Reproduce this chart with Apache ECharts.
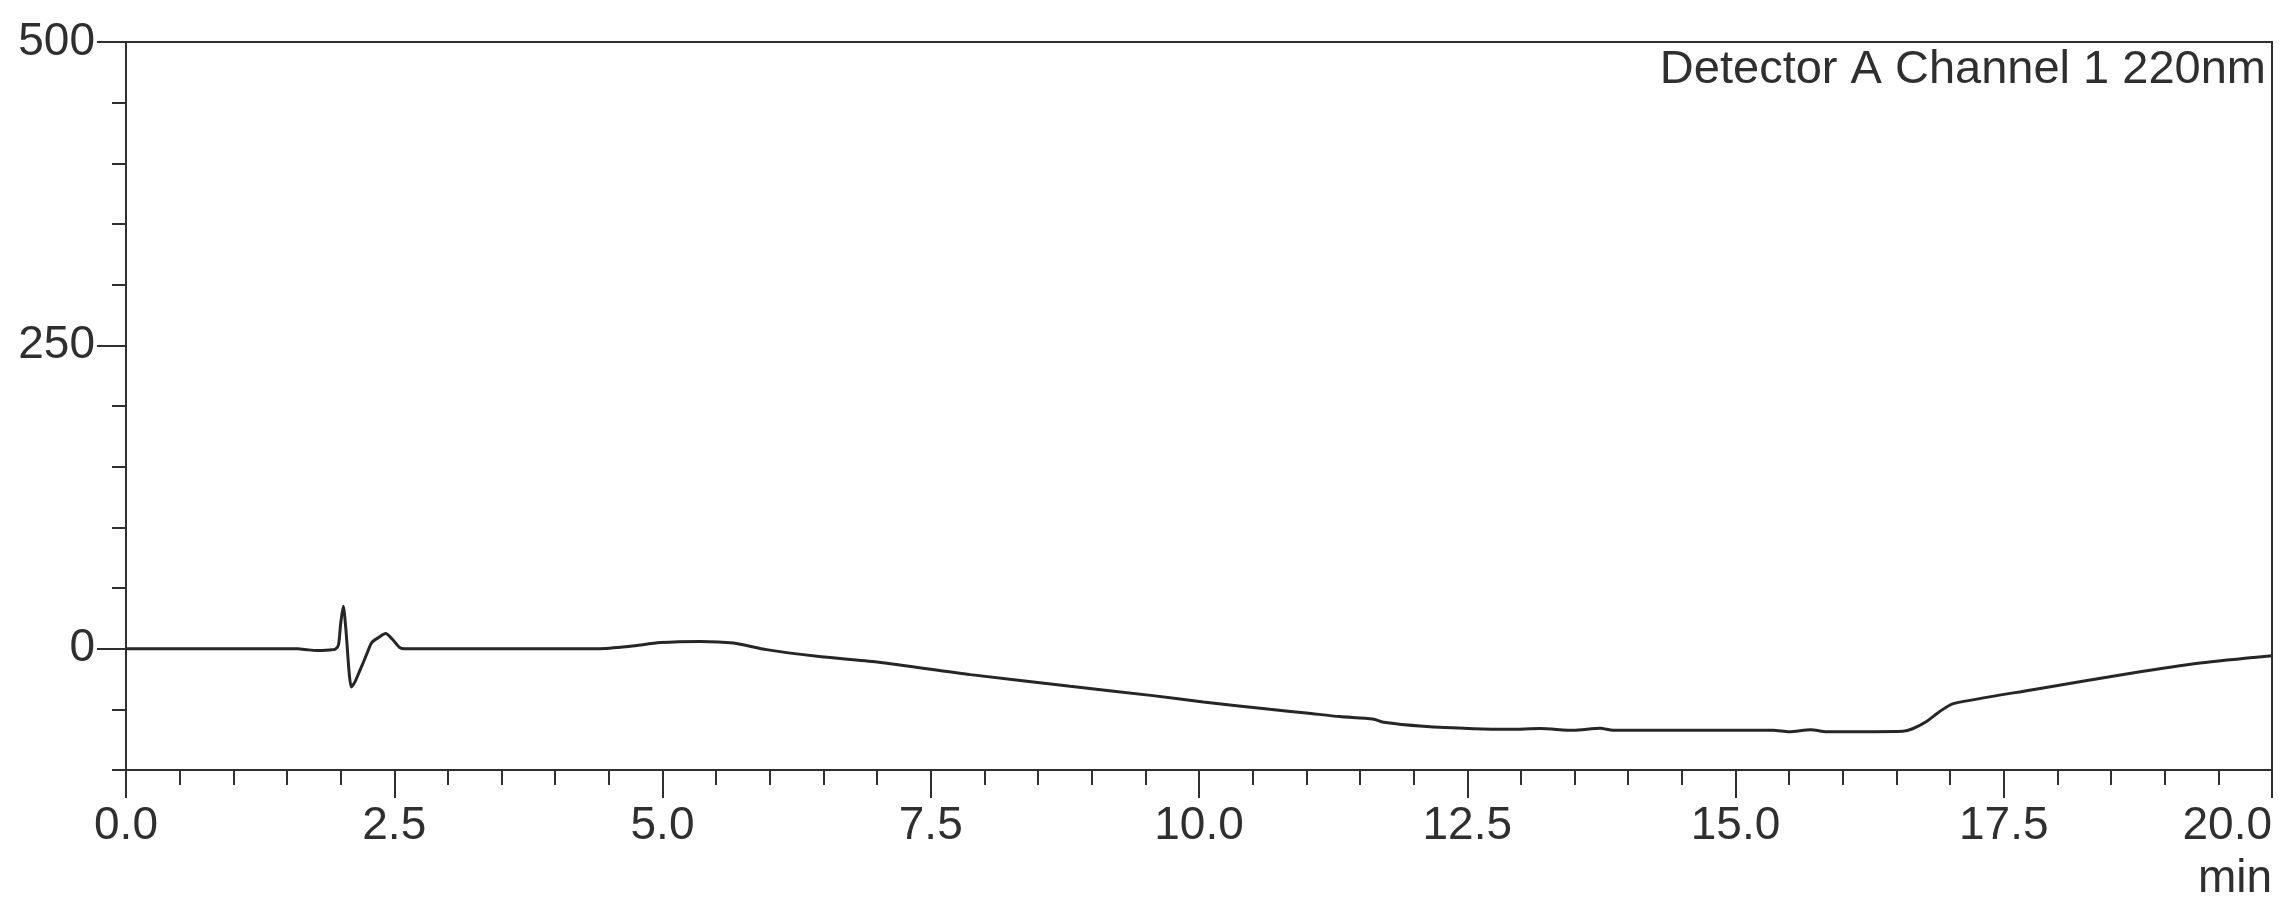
<!DOCTYPE html>
<html>
<head>
<meta charset="utf-8">
<script src="https://cdn.jsdelivr.net/npm/echarts@6/dist/echarts.min.js"></script>
<style>
html,body{margin:0;padding:0;background:#fff;}
#c{width:2281px;height:899px;}
</style>
</head>
<body>
<div id="c"></div>
<script>
// Retention time (min)
const times = [0.0, 1.60, 1.70, 1.78, 1.90, 1.95, 1.98, 2.00, 2.025, 2.05, 2.08, 2.10, 2.13, 2.17, 2.21, 2.25, 2.29, 2.35, 2.42, 2.48, 2.55, 2.60,
  4.40, 4.70, 4.98, 5.35, 5.66, 5.97, 6.44, 7.00, 7.87, 8.80, 9.57, 10.04, 10.66, 11.00, 11.31, 11.62, 11.72, 12.09, 12.56, 12.90,
  13.18, 13.49, 13.74, 13.86, 15.35, 15.50, 15.70, 15.85, 16.56, 16.65, 16.78, 16.90, 17.03, 17.77, 18.70, 19.33, 20.00];
// Detector signal (mAU)
const signal = [0, 0, -1, -1.5, -1, -0.5, 3, 20, 35, 15, -20, -31.5, -28, -20, -11.7, -3, 5, 9, 12.4, 8, 1, 0,
  0, 2, 5, 6, 4.6, -0.8, -6.3, -11, -21.4, -31, -38.7, -44, -50, -53, -56, -58, -60.7, -64, -66, -66.5,
  -65.8, -67.3, -65.5, -67.3, -67.3, -68.5, -66.8, -68.5, -68, -66, -60, -52, -45.3, -33.8, -20, -11.8, -5.8];
const xTicks = [0, 2.5, 5, 7.5, 10, 12.5, 15, 17.5, 20];
const yMajorTicks = [0, 250, 500];
const channelLabel = 'Detector A Channel 1 220nm';
const xUnit = 'min';

const seriesData = times.map((t, i) => [t, signal[i]]);
const ink = '#2f2f2f';
const font = 'Liberation Sans, Arial, sans-serif';

const chart = echarts.init(document.getElementById('c'), null, {renderer: 'canvas'});
chart.setOption({
  animation: false,
  backgroundColor: '#fff',
  title: {
    text: channelLabel,
    right: 10, top: 42,
    textStyle: {fontFamily: font, fontSize: 47, fontWeight: 'normal', color: ink}
  },
  grid: {
    left: 126, right: 9, top: 42, bottom: 129,
    show: true, borderColor: ink, borderWidth: 2, backgroundColor: 'transparent'
  },
  xAxis: {
    type: 'value', min: 0, max: 20, interval: 2.5,
    axisLine: {show: true, onZero: false, lineStyle: {color: ink, width: 2}},
    axisTick: {show: true, inside: false, length: 28, lineStyle: {color: ink, width: 2}},
    minorTick: {show: true, splitNumber: 5, length: 15, lineStyle: {color: ink, width: 2}},
    splitLine: {show: false},
    axisLabel: {
      margin: 33, fontSize: 46, color: ink, fontFamily: font,
      alignMaxLabel: 'right',
      formatter: v => xTicks.includes(v) ? v.toFixed(1) : ''
    }
  },
  yAxis: [{
    type: 'value', min: -100, max: 500, position: 'left',
    axisLine: {show: true, onZero: false, lineStyle: {color: ink, width: 2}},
    axisTick: {show: true, inside: false, length: 29, customValues: yMajorTicks, lineStyle: {color: ink, width: 2}},
    splitLine: {show: false},
    axisLabel: {margin: 31, fontSize: 46, color: ink, fontFamily: font, customValues: yMajorTicks}
  }, {
    type: 'value', min: -100, max: 500, interval: 50, position: 'left', offset: 0,
    axisLine: {show: false},
    axisTick: {show: true, inside: false, length: 14, lineStyle: {color: ink, width: 2}},
    splitLine: {show: false},
    axisLabel: {show: false}
  }],
  graphic: [{
    type: 'text', right: 9, top: 856,
    style: {text: xUnit, fontSize: 46, fontFamily: font, fill: ink}
  }],
  series: [{
    type: 'line', data: seriesData, xAxisIndex: 0, yAxisIndex: 0,
    showSymbol: false, smooth: 0.25, clip: true,
    lineStyle: {color: '#262626', width: 3}
  }]
});
</script>
</body>
</html>
